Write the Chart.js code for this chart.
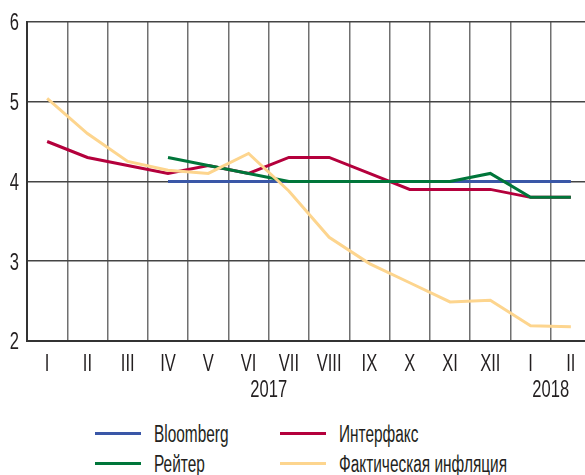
<!DOCTYPE html>
<html>
<head>
<meta charset="utf-8">
<script src="https://cdn.jsdelivr.net/npm/chart.js@4"></script>
<style>
  html, body { margin: 0; padding: 0; background: #fff; overflow: hidden; width: 585px; height: 475px; }
  #wrap { position: relative; width: 585px; height: 475px; overflow: hidden; }
  canvas { position: absolute; left: 0; top: 0; }
  .leg { position: absolute; font-family: "Liberation Sans", Arial, sans-serif; font-size: 23px; color: #231f20; line-height: 26px; white-space: nowrap; transform: scaleX(0.67); transform-origin: left center; }
  .sw { position: absolute; height: 3px; }
</style>
</head>
<body>
<div id="wrap">
  <canvas id="c" width="600" height="410"></canvas>
  <div class="sw" style="left:95px;top:432px;width:46px;background:#3a57a7"></div>
  <div class="leg" style="left:154px;top:421px">Bloomberg</div>
  <div class="sw" style="left:95px;top:462px;width:46px;background:#00763a"></div>
  <div class="leg" style="left:154px;top:451px">Рейтер</div>
  <div class="sw" style="left:280px;top:432px;width:46px;background:#b4003c"></div>
  <div class="leg" style="left:339px;top:421px">Интерфакс</div>
  <div class="sw" style="left:280px;top:462px;width:46px;background:#fdd58e"></div>
  <div class="leg" style="left:339px;top:451px">Фактическая инфляция</div>
</div>
<script>
const months = ["I","II","III","IV","V","VI","VII","VIII","IX","X","XI","XII","I","II"];
const years = ["2017", "2018"];
const yearPositions = [5.5, 12.5];
const yTicks = [2, 3, 4, 5, 6];

const bloomberg = [null, null, null, 4.0, 4.0, 4.0, 4.0, 4.0, 4.0, 4.0, 4.0, 4.0, 4.0, 4.0];
const reuters   = [null, null, null, 4.3, 4.2, 4.1, 4.0, 4.0, 4.0, 4.0, 4.0, 4.1, 3.8, 3.8];
const interfax  = [4.5, 4.3, 4.2, 4.1, 4.2, 4.1, 4.3, 4.3, 4.1, 3.9, 3.9, 3.9, 3.8, 3.8];
const actual    = [5.04, 4.6, 4.25, 4.14, 4.1, 4.35, 3.88, 3.3, 2.97, 2.73, 2.49, 2.51, 2.19, 2.18];

const FONT = '"Liberation Sans", Arial, sans-serif';
const SQUEEZE = 0.72;

// condensed look: draw canvas text with a horizontal squeeze through fillText's maxWidth
const condensePlugin = {
  id: 'condense',
  beforeDraw(chart) {
    const ctx = chart.ctx;
    if (ctx.__condensed) return;
    const orig = ctx.fillText;
    ctx.fillText = function (t, x, y, m) {
      const w = this.measureText(t).width * SQUEEZE;
      return orig.call(this, t, x, y, (m === undefined || m === null) ? w : Math.min(m, w));
    };
    ctx.__condensed = true;
  }
};

const yearPlugin = {
  id: 'years',
  afterDraw(chart) {
    const ctx = chart.ctx;
    const xs = chart.scales.x;
    ctx.save();
    ctx.font = '23px ' + FONT;
    ctx.fillStyle = '#231f20';
    ctx.textAlign = 'center';
    ctx.textBaseline = 'middle';
    years.forEach((y, i) => {
      ctx.fillText(y, xs.getPixelForValue(yearPositions[i]), 391);
    });
    ctx.restore();
  }
};

function ds(label, data, color) {
  return { label, data, borderColor: color, backgroundColor: color, borderWidth: 3,
           pointRadius: 0, tension: 0, fill: false, spanGaps: false };
}

new Chart(document.getElementById('c'), {
  type: 'line',
  data: {
    labels: months,
    datasets: [
      ds('Фактическая инфляция', actual, '#fdd58e'),
      ds('Рейтер', reuters, '#00763a'),
      ds('Интерфакс', interfax, '#b4003c'),
      ds('Bloomberg', bloomberg, '#3a57a7')
    ]
  },
  options: {
    responsive: false,
    animation: false,
    devicePixelRatio: 1,
    layout: { padding: { top: 21, right: 9, left: 0, bottom: 0 } },
    plugins: { legend: { display: false }, tooltip: { enabled: false } },
    scales: {
      x: {
        offset: true,
        grid: { offset: true, color: '#707070', lineWidth: 1.5, drawTicks: false },
        border: { color: '#333', width: 2 },
        ticks: { color: '#231f20', font: { family: FONT, size: 23 }, padding: 10, maxRotation: 0, autoSkip: false },
        afterFit(s) { s.height = 69; }
      },
      y: {
        min: 2, max: 6,
        afterBuildTicks(s) { s.ticks = yTicks.map(v => ({ value: v })); },
        grid: { color: '#444', lineWidth: 1.5, drawTicks: false },
        border: { color: '#333', width: 2 },
        ticks: { color: '#231f20', font: { family: FONT, size: 23 }, padding: 8, labelOffset: 2 },
        afterFit(s) { s.width = 27; }
      }
    }
  },
  plugins: [condensePlugin, yearPlugin]
});
</script>
</body>
</html>
